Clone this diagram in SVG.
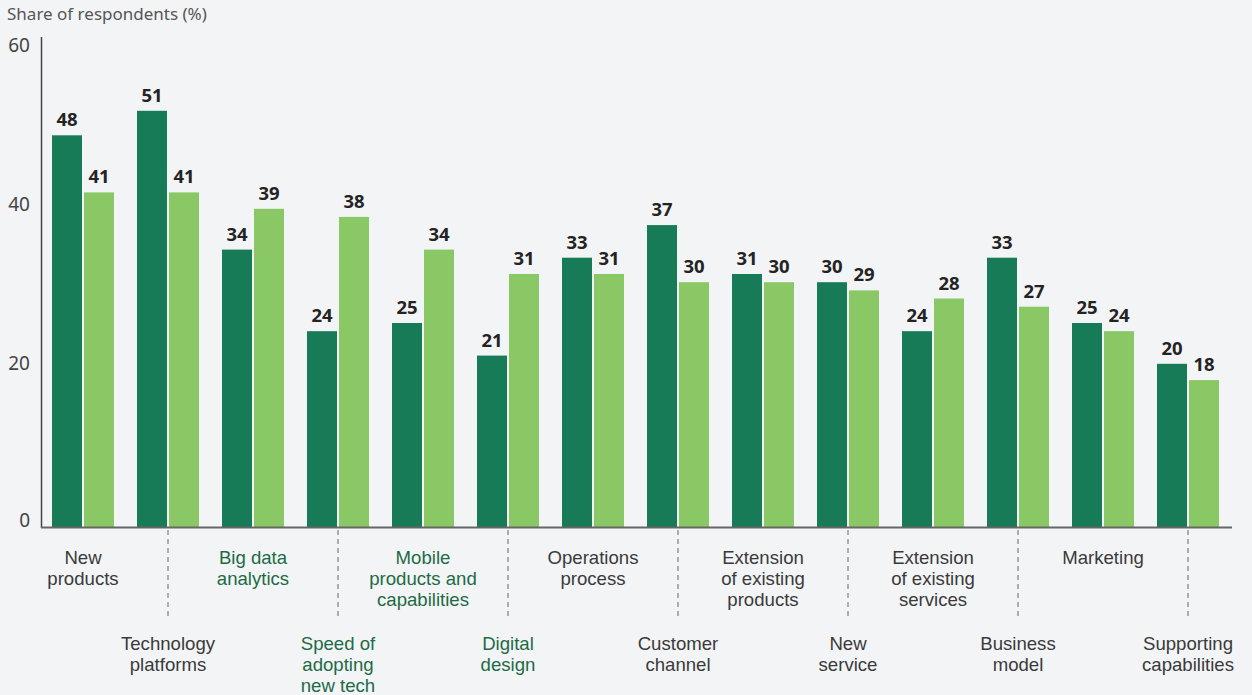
<svg xmlns="http://www.w3.org/2000/svg" width="1252" height="695" viewBox="0 0 1252 695">
<style>
.bg{fill:#f3f4f6}
.dk{fill:#177b57}
.lt{fill:#89c865}
.val{font-family:"Noto Sans","Liberation Sans",sans-serif;font-size:18.5px;font-weight:bold;fill:#232323;text-anchor:middle}
.ax{font-family:"Noto Sans","Liberation Sans",sans-serif;font-size:19px;fill:#444;text-anchor:end}
.ttl{font-family:"Noto Sans","Liberation Sans",sans-serif;font-size:17px;fill:#555}
.cat{font-family:"Liberation Sans","Noto Sans",sans-serif;font-size:18.6px;fill:#3a3a3a;text-anchor:middle}
.hl{fill:#1d6b45}
.sep{stroke:#888;stroke-width:1.3;stroke-dasharray:5 4;fill:none}
.axis{stroke:#444;stroke-width:1.5;fill:none}
.base{stroke:#666;stroke-width:2;fill:none}
</style>
<rect class="bg" x="0" y="0" width="1252" height="695"/>
<text class="ttl" x="7" y="20">Share of respondents (%)</text>
<g id="y-axis">
<text class="ax" x="30" y="52">60</text>
<text class="ax" x="30" y="211">40</text>
<text class="ax" x="30" y="370">20</text>
<text class="ax" x="30" y="527">0</text>
</g>
<g id="bars">
<rect class="dk" x="52" y="135.3" width="30" height="391.7"/><rect class="lt" x="84" y="192.4" width="30" height="334.6"/>
<rect class="dk" x="137" y="110.8" width="30" height="416.2"/><rect class="lt" x="169" y="192.4" width="30" height="334.6"/>
<rect class="dk" x="222" y="249.6" width="30" height="277.4"/><rect class="lt" x="254" y="208.8" width="30" height="318.2"/>
<rect class="dk" x="307" y="331.2" width="30" height="195.8"/><rect class="lt" x="339" y="216.9" width="30" height="310.1"/>
<rect class="dk" x="392" y="323" width="30" height="204"/><rect class="lt" x="424" y="249.6" width="30" height="277.4"/>
<rect class="dk" x="477" y="355.6" width="30" height="171.4"/><rect class="lt" x="509" y="274" width="30" height="253"/>
<rect class="dk" x="562" y="257.7" width="30" height="269.3"/><rect class="lt" x="594" y="274" width="30" height="253"/>
<rect class="dk" x="647" y="225.1" width="30" height="301.9"/><rect class="lt" x="679" y="282.2" width="30" height="244.8"/>
<rect class="dk" x="732" y="274" width="30" height="253"/><rect class="lt" x="764" y="282.2" width="30" height="244.8"/>
<rect class="dk" x="817" y="282.2" width="30" height="244.8"/><rect class="lt" x="849" y="290.4" width="30" height="236.6"/>
<rect class="dk" x="902" y="331.2" width="30" height="195.8"/><rect class="lt" x="934" y="298.5" width="30" height="228.5"/>
<rect class="dk" x="987" y="257.7" width="30" height="269.3"/><rect class="lt" x="1019" y="306.7" width="30" height="220.3"/>
<rect class="dk" x="1072" y="323" width="30" height="204"/><rect class="lt" x="1104" y="331.2" width="30" height="195.8"/>
<rect class="dk" x="1157" y="363.8" width="30" height="163.2"/><rect class="lt" x="1189" y="380.1" width="30" height="146.9"/>
</g>
<g id="values">
<text class="val" x="67" y="126.3">48</text><text class="val" x="99" y="183.4">41</text>
<text class="val" x="152" y="101.8">51</text><text class="val" x="184" y="183.4">41</text>
<text class="val" x="237" y="240.6">34</text><text class="val" x="269" y="199.8">39</text>
<text class="val" x="322" y="322.2">24</text><text class="val" x="354" y="207.9">38</text>
<text class="val" x="407" y="314">25</text><text class="val" x="439" y="240.6">34</text>
<text class="val" x="492" y="346.6">21</text><text class="val" x="524" y="265">31</text>
<text class="val" x="577" y="248.7">33</text><text class="val" x="609" y="265">31</text>
<text class="val" x="662" y="216.1">37</text><text class="val" x="694" y="273.2">30</text>
<text class="val" x="747" y="265">31</text><text class="val" x="779" y="273.2">30</text>
<text class="val" x="832" y="273.2">30</text><text class="val" x="864" y="281.4">29</text>
<text class="val" x="917" y="322.2">24</text><text class="val" x="949" y="289.5">28</text>
<text class="val" x="1002" y="248.7">33</text><text class="val" x="1034" y="297.7">27</text>
<text class="val" x="1087" y="314">25</text><text class="val" x="1119" y="322.2">24</text>
<text class="val" x="1172" y="354.8">20</text><text class="val" x="1204" y="371.1">18</text>
</g>
<g id="connectors">
<line class="axis" x1="41.5" y1="37" x2="41.5" y2="528"/>
<line class="base" x1="41" y1="527.5" x2="1232" y2="527.5"/>
<line class="sep" x1="168" y1="530" x2="168" y2="620"/>
<line class="sep" x1="338" y1="530" x2="338" y2="620"/>
<line class="sep" x1="508" y1="530" x2="508" y2="620"/>
<line class="sep" x1="678" y1="530" x2="678" y2="620"/>
<line class="sep" x1="848" y1="530" x2="848" y2="620"/>
<line class="sep" x1="1018" y1="530" x2="1018" y2="620"/>
<line class="sep" x1="1188" y1="530" x2="1188" y2="620"/>
</g>
<g id="cat-new-products"><text class="cat" x="83" y="564">New</text><text class="cat" x="83" y="585">products</text></g>
<g id="cat-technology-platforms"><text class="cat" x="168" y="650">Technology</text><text class="cat" x="168" y="671">platforms</text></g>
<g id="cat-big-data"><text class="cat hl" x="253" y="564">Big data</text><text class="cat hl" x="253" y="585">analytics</text></g>
<g id="cat-speed"><text class="cat hl" x="338" y="650">Speed of</text><text class="cat hl" x="338" y="671">adopting</text><text class="cat hl" x="338" y="692">new tech</text></g>
<g id="cat-mobile"><text class="cat hl" x="423" y="564">Mobile</text><text class="cat hl" x="423" y="585">products and</text><text class="cat hl" x="423" y="606">capabilities</text></g>
<g id="cat-digital-design"><text class="cat hl" x="508" y="650">Digital</text><text class="cat hl" x="508" y="671">design</text></g>
<g id="cat-operations"><text class="cat" x="593" y="564">Operations</text><text class="cat" x="593" y="585">process</text></g>
<g id="cat-customer"><text class="cat" x="678" y="650">Customer</text><text class="cat" x="678" y="671">channel</text></g>
<g id="cat-ext-products"><text class="cat" x="763" y="564">Extension</text><text class="cat" x="763" y="585">of existing</text><text class="cat" x="763" y="606">products</text></g>
<g id="cat-new-service"><text class="cat" x="848" y="650">New</text><text class="cat" x="848" y="671">service</text></g>
<g id="cat-ext-services"><text class="cat" x="933" y="564">Extension</text><text class="cat" x="933" y="585">of existing</text><text class="cat" x="933" y="606">services</text></g>
<g id="cat-business-model"><text class="cat" x="1018" y="650">Business</text><text class="cat" x="1018" y="671">model</text></g>
<g id="cat-marketing"><text class="cat" x="1103" y="564">Marketing</text></g>
<g id="cat-supporting"><text class="cat" x="1188" y="650">Supporting</text><text class="cat" x="1188" y="671">capabilities</text></g>
</svg>
